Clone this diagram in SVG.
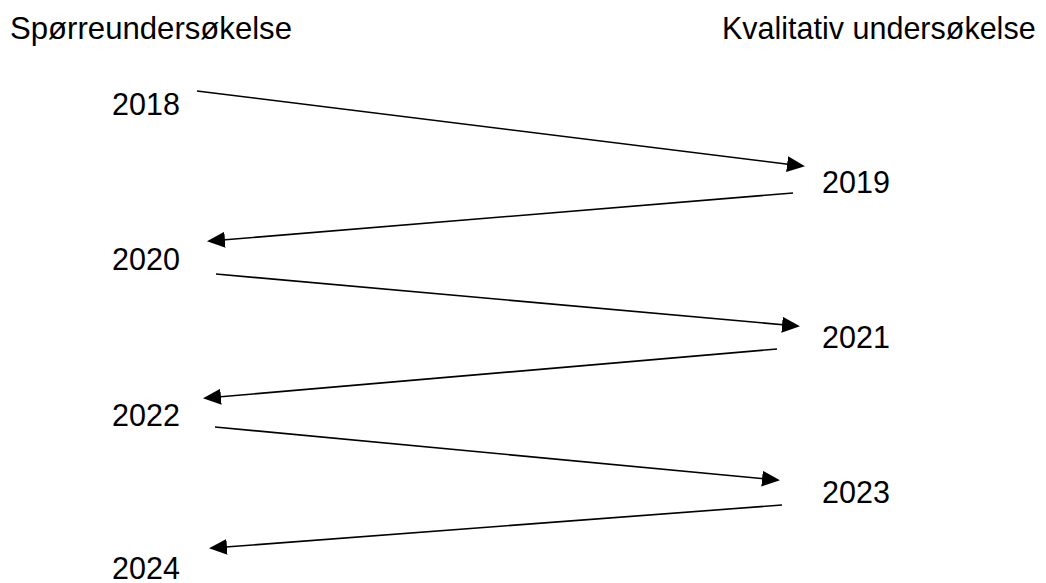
<svg xmlns="http://www.w3.org/2000/svg" width="1046" height="583" viewBox="0 0 1046 583">
<style>
text{font-family:"Liberation Sans",Arial,sans-serif;font-size:30.5px;fill:#000}
.c{stroke:#000;stroke-width:1.6;fill:none;marker-end:url(#ah)}
</style>
<defs>
<marker id="ah" markerUnits="userSpaceOnUse" markerWidth="18" markerHeight="18" viewBox="0 0 18 17" refX="15" refY="8" orient="auto">
<path d="M0,0 L18,8 L0,16 Z" fill="#000"/>
</marker>
</defs>
<rect width="1046" height="583" fill="#fff"/>
<g id="header-left"><text x="10" y="39" textLength="282" lengthAdjust="spacingAndGlyphs">Spørreundersøkelse</text></g>
<g id="header-right"><text x="722" y="39">Kvalitativ undersøkelse</text></g>
<g id="y2018"><text x="112" y="115">2018</text></g>
<g id="y2019"><text x="822" y="193">2019</text></g>
<g id="y2020"><text x="112" y="270">2020</text></g>
<g id="y2021"><text x="822" y="348">2021</text></g>
<g id="y2022"><text x="112" y="426">2022</text></g>
<g id="y2023"><text x="822" y="503">2023</text></g>
<g id="y2024"><text x="112" y="579">2024</text></g>
<g id="connectors">
<line class="c" x1="197" y1="91" x2="802" y2="166"/>
<line class="c" x1="793" y1="193" x2="210" y2="241"/>
<line class="c" x1="216" y1="274" x2="797" y2="326"/>
<line class="c" x1="777" y1="349" x2="206" y2="398"/>
<line class="c" x1="215" y1="427" x2="777" y2="480"/>
<line class="c" x1="782" y1="505" x2="212" y2="548"/>
</g>
</svg>
